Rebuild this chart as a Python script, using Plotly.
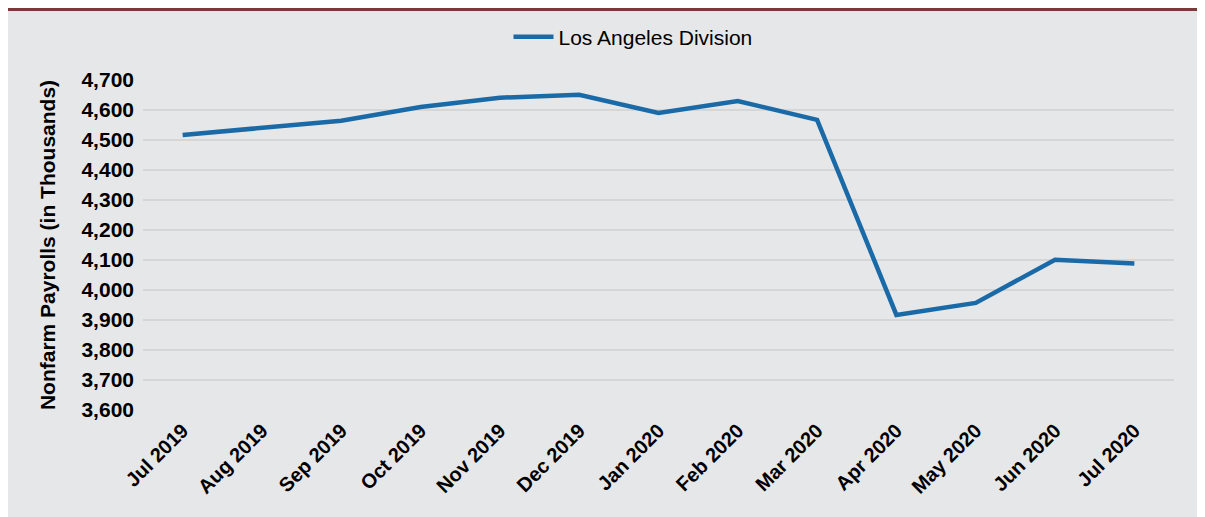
import plotly.graph_objects as go

# Data
months = ["Jul 2019", "Aug 2019", "Sep 2019", "Oct 2019", "Nov 2019", "Dec 2019",
          "Jan 2020", "Feb 2020", "Mar 2020", "Apr 2020", "May 2020", "Jun 2020",
          "Jul 2020"]
payrolls = [4517, 4542, 4564, 4610, 4641, 4651, 4590, 4630, 4567,
            3917, 3957, 4101, 4088]
y_ticks = list(range(3600, 4701, 100))

# the page body adds an 8px offset, so the figure is a bit smaller than the window
OFF = 8
W, H = 1205 - OFF, 517 - OFF
L, R, T, B = 143 - OFF, 31, 80 - OFF, 107
pw, ph = W - L - R, H - T - B


def px(x):
    # window pixel -> paper x
    return (x - OFF - L) / pw


def py(y):
    # window pixel -> paper y
    return (H - B - (y - OFF)) / ph


fig = go.Figure()
fig.add_trace(go.Scatter(
    x=months, y=payrolls, mode="lines", name="Los Angeles Division",
    line=dict(color="#1B6AA8", width=4.5),
))

# grey panel and dark red rule at top
fig.add_shape(type="rect", xref="paper", yref="paper",
              x0=px(8), x1=px(1200), y0=py(517), y1=py(11),
              fillcolor="#E6E7E9", line_width=0, layer="below")
fig.add_shape(type="rect", xref="paper", yref="paper",
              x0=px(8), x1=px(1205), y0=py(11), y1=py(8),
              fillcolor="#7A3A3C", line_width=0, layer="below")

fig.update_layout(
    width=W, height=H,
    margin=dict(l=L, r=R, t=T, b=B, autoexpand=False),
    paper_bgcolor="white",
    plot_bgcolor="rgba(0,0,0,0)",
    font=dict(family="Liberation Sans, Arial, sans-serif", color="black"),
    showlegend=True,
    legend=dict(orientation="h", x=px(633), xanchor="center", y=py(37), yanchor="middle",
                font=dict(size=21), bgcolor="rgba(0,0,0,0)", itemwidth=40),
    xaxis=dict(
        type="category", tickangle=-45, showgrid=False, zeroline=False,
        range=[-0.5, len(months) - 0.5],
        tickfont=dict(size=20, weight="bold"),
        automargin=False, ticklabelstandoff=4,
    ),
    yaxis=dict(
        range=[3600, 4700], tickvals=y_ticks, tickformat=",", showgrid=True,
        gridcolor="#D6D6D6", gridwidth=1.5, zeroline=False, automargin=False,
        tickfont=dict(size=21, weight="bold"), ticklabelstandoff=8,
        title=dict(text="Nonfarm Payrolls (in Thousands)", standoff=20,
                   font=dict(size=21, weight="bold")),
    ),
)

fig.write_html("out.html")
